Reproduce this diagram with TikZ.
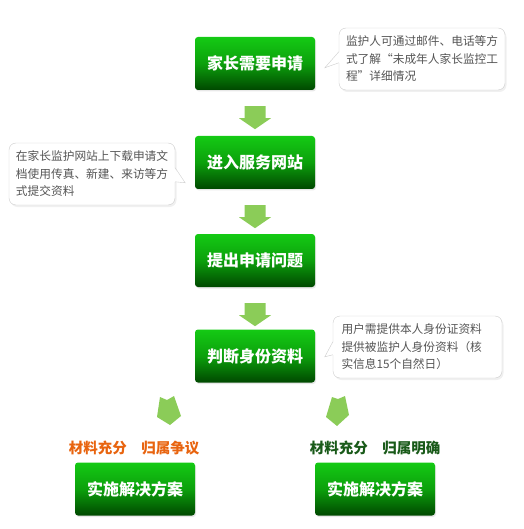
\documentclass[tikz,border=0pt]{standalone}
\usepackage{fontspec}
\newfontfamily\cjk{Noto Sans CJK SC}
\usetikzlibrary{calc,shadows}
\definecolor{arrowgreen}{RGB}{139,204,88}
\definecolor{boxtop}{RGB}{20,202,20}
\definecolor{boxmid}{RGB}{12,160,12}
\definecolor{boxbot}{RGB}{0,72,0}
\definecolor{cborder}{RGB}{205,205,205}
\definecolor{ctext}{RGB}{85,85,85}
\definecolor{lblorange}{RGB}{232,100,15}
\definecolor{lblgreen}{RGB}{25,90,25}
\newcommand\downblock[1]{%
  \fill[arrowgreen] ($(#1.south)+(0,16)$) ++(-10.5,0) -- ++(21,0) -- ++(0,12)
    -- ++(5.5,0) -- ++(-16,11) -- ++(-16,-11) -- ++(5.5,0) -- cycle;}
\begin{document}
\begin{tikzpicture}[x=1pt,y=-1pt,
  stepbox/.style={rounded corners=3pt, minimum width=120pt, minimum height=53pt,
    top color=boxtop, bottom color=boxbot, middle color=boxmid, text=white,
    font=\cjk\bfseries\fontsize{16}{19}\selectfont,
    drop shadow={opacity=0.18, shadow xshift=1pt, shadow yshift=-1.5pt}},
  callout/.style={rounded corners=7pt, fill=white, draw=cborder, text=ctext,
    font=\cjk\fontsize{11.7}{17.5}\selectfont, align=left, text width=152pt,
    inner xsep=7pt, minimum height=62pt,
    drop shadow={opacity=0.12, shadow xshift=1.5pt, shadow yshift=-2pt}},
  tailedge/.style={draw=cborder},
  lbl/.style={font=\cjk\bfseries\fontsize{14.5}{17}\selectfont}]
\useasboundingbox (0,0) rectangle (523,529);

% main boxes
\node[stepbox] (b1) at (255,63.5) {家长需要申请};
\node[stepbox] (b2) at (255,162.5) {进入服务网站};
\node[stepbox] (b3) at (255,260.5) {提出申请问题};
\node[stepbox] (b4) at (255,356) {判断身份资料};
\node[stepbox] (b5) at (135,489) {实施解决方案};
\node[stepbox] (b6) at (375,489) {实施解决方案};

% down block arrows
\downblock{b1}
\downblock{b2}
\downblock{b3}

% diagonal block arrows
\fill[arrowgreen] (160,397) -- (167,400) -- (174,396) -- (181,416) -- (170,425) -- (157,417) -- cycle;
\fill[arrowgreen] (332,397) -- (338,399) -- (345,396) -- (349,415) -- (337,426) -- (326,417) -- cycle;

% labels
\node[lbl, text=lblorange] (l1) at (134,448) {材料充分\hspace{1em}归属争议};
\node[lbl, text=lblgreen] (l2) at (375,448) {材料充分\hspace{1em}归属明确};

% callout 1
\node[callout, minimum width=166pt] (c1) at (422,59)
  {监护人可通过邮件、电话等方\\式了解“未成年人家长监控工\\程”详细情况};
\coordinate (t1) at ($(c1.north west)+(-14,40)$);
\fill[white] ($(c1.north west)+(1,24)$) -- (t1) -- ($(c1.north west)+(1,35)$) -- cycle;
\draw[tailedge] ($(c1.north west)+(0,24)$) -- (t1) -- ($(c1.north west)+(0,35)$);

% callout 2
\node[callout, minimum width=166pt] (c2) at (92,174)
  {在家长监护网站上下载申请文\\档使用传真、新建、来访等方\\式提交资料};
\coordinate (t2) at ($(c2.north east)+(10,40)$);
\fill[white] ($(c2.north east)+(-1,25)$) -- (t2) -- ($(c2.north east)+(-1,39)$) -- cycle;
\draw[tailedge] ($(c2.north east)+(0,25)$) -- (t2) -- ($(c2.north east)+(0,39)$);

% callout 3
\node[callout, minimum width=169pt] (c3) at (417.5,347)
  {用户需提供本人身份证资料\\提供被监护人身份资料（核\\实信息15个自然日）};
\coordinate (t3) at ($(c3.north west)+(-8,41)$);
\fill[white] ($(c3.north west)+(1,26)$) -- (t3) -- ($(c3.north west)+(1,39)$) -- cycle;
\draw[tailedge] ($(c3.north west)+(0,26)$) -- (t3) -- ($(c3.north west)+(0,39)$);
\end{tikzpicture}
\end{document}
